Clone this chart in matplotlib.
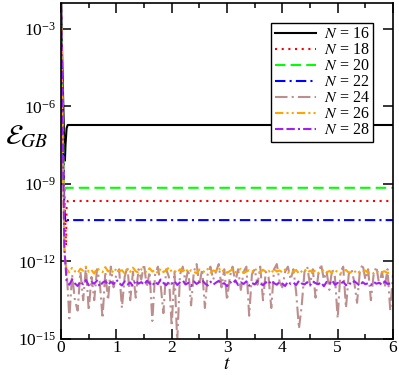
import numpy as np
import matplotlib
matplotlib.use('Agg')
import matplotlib.pyplot as plt
from matplotlib.ticker import FixedLocator, NullLocator, MultipleLocator

plt.rcParams['font.family'] = ['Liberation Serif', 'DejaVu Serif']
plt.rcParams['mathtext.fontset'] = 'stix'

# начальный участок (t, log10 E) для гладких кривых
t16 = [0.0, 0.03, 0.06, 0.07, 0.08, 0.10, 0.12, 6.0]
e16 = [-2.0, -5.0, -7.7, -8.1, -7.5, -6.85, -6.72, -6.72]
t18 = [0.0, 0.03, 0.06, 0.09, 0.10, 0.12, 6.0]
e18 = [-2.0, -6.0, -9.5, -11.4, -9.9, -9.66, -9.66]
t20 = [0.0, 0.03, 0.05, 0.07, 0.09, 6.0]
e20 = [-2.0, -6.0, -9.0, -9.25, -9.15, -9.15]
t22 = [0.0, 0.03, 0.06, 0.08, 0.10, 6.0]
e22 = [-2.0, -6.5, -10.0, -10.5, -10.4, -10.4]

# начало шумных кривых
t_head = [0.0, 0.03, 0.06, 0.08]
e_head = [-2.0, -7.0, -11.5, -12.1]

# шумные кривые, шаг 0.05 от t = 0.10 до 6.00
e24 = [-12.3, -14.2, -12.5, -13.5, -13.9, -12.4, -13.5, -12.2, -13.9, -12.6,
       -13.5, -12.3, -12.8, -14.2, -12.4, -13.5, -12.2, -13.0, -12.5, -12.3,
       -13.8, -12.6, -12.2, -13.5, -12.4, -13.4, -12.3, -12.7, -12.1, -13.0,
       -12.4, -14.3, -12.5, -12.2, -12.9, -14.0, -12.3, -12.6, -14.5, -12.4,
       -15.1, -12.5, -12.2, -12.8, -12.3, -13.7, -12.4, -12.1, -12.9, -12.3,
       -13.8, -12.5, -12.2, -12.7, -12.4, -12.1, -13.0, -12.3, -13.5, -12.6,
       -12.2, -12.8, -12.3, -13.1, -12.4, -12.2, -14.1, -12.5, -12.3, -12.9,
       -12.2, -13.5, -12.4, -12.6, -13.8, -12.3, -12.1, -12.8, -13.0, -12.4,
       -12.2, -12.7, -12.3, -13.2, -14.6, -13.7, -12.4, -12.2, -12.9, -12.3,
       -13.4, -12.5, -12.1, -12.7, -12.4, -13.1, -12.3, -12.6, -14.2, -12.4,
       -12.2, -13.8, -12.5, -12.3, -12.8, -13.6, -12.4, -12.1, -12.7, -12.3,
       -13.5, -12.5, -12.2, -12.9, -12.4, -13.0, -12.3, -13.9, -12.5]
e26 = [-12.30, -12.42, -12.25, -12.38, -12.45, -12.28, -12.36, -12.20, -12.40, -12.33,
       -12.47, -12.26, -12.35, -12.41, -12.22, -12.39, -12.31, -12.44, -12.27, -12.37,
       -12.34, -12.46, -12.29, -12.40, -12.24, -12.38, -12.43, -12.30, -12.36, -12.42,
       -12.26, -12.39, -12.33, -12.45, -12.28, -12.41, -12.35, -12.23, -12.40, -12.37,
       -12.44, -12.30, -12.38, -12.27, -12.42, -12.34, -12.39, -12.46, -12.31, -12.36,
       -12.41, -12.29, -12.43, -12.35, -12.38, -12.25, -12.40, -12.33, -12.44, -12.37,
       -12.30, -12.42, -12.36, -12.28, -12.45, -12.39, -12.34, -12.41, -12.27, -12.38,
       -12.43, -12.32, -12.40, -12.36, -12.46, -12.29, -12.39, -12.35, -12.42, -12.31,
       -12.44, -12.37, -12.40, -12.33, -12.47, -12.38, -12.30, -12.43, -12.36, -12.41,
       -12.34, -12.45, -12.39, -12.32, -12.42, -12.37, -12.44, -12.35, -12.40, -12.46,
       -12.38, -12.33, -12.43, -12.41, -12.36, -12.47, -12.39, -12.42, -12.35, -12.44,
       -12.40, -12.46, -12.37, -12.43, -12.41, -12.38, -12.45, -12.42, -12.40]
e28 = [-12.75, -12.90, -12.70, -12.85, -12.95, -12.78, -12.88, -12.72, -12.92, -12.80,
       -12.86, -12.74, -12.97, -12.82, -12.76, -12.91, -12.79, -12.87, -12.71, -12.84,
       -12.93, -12.77, -12.89, -12.81, -12.96, -12.73, -12.86, -12.80, -12.90, -12.75,
       -12.84, -12.94, -12.78, -12.88, -12.70, -12.83, -12.92, -12.79, -12.86, -12.76,
       -12.91, -12.81, -12.74, -12.89, -12.83, -12.95, -12.77, -12.87, -12.80, -12.72,
       -12.85, -12.93, -12.78, -12.90, -12.82, -12.75, -12.88, -12.84, -12.96, -12.79,
       -12.86, -12.73, -12.91, -12.81, -12.87, -12.77, -12.94, -12.83, -12.89, -12.76,
       -12.85, -12.92, -12.80, -12.88, -12.74, -12.84, -12.90, -12.79, -12.86, -12.95,
       -12.78, -12.87, -12.82, -12.91, -12.75, -12.85, -12.89, -12.80, -12.93, -12.77,
       -12.84, -12.88, -12.81, -12.96, -12.79, -12.86, -12.73, -12.90, -12.83, -12.87,
       -12.78, -12.92, -12.82, -12.89, -12.76, -12.85, -12.94, -12.80, -12.88, -12.84,
       -12.91, -12.79, -12.86, -12.83, -12.90, -12.77, -12.87, -12.85, -12.82]
t_noise = np.linspace(0.10, 6.0, len(e24))

fig = plt.figure(figsize=(3.99, 3.75), dpi=100)
ax = fig.add_axes([0.153, 0.096, 0.832, 0.896])

ax.plot(t16, 10.0**np.array(e16), color='black', lw=1.5, ls='-', label=r'$N$ = 16')
ax.plot(t18, 10.0**np.array(e18), color='red', lw=1.5, ls=(0, (1, 2.2)), label=r'$N$ = 18')
ax.plot(t20, 10.0**np.array(e20), color='#00ff00', lw=1.5, ls=(0, (5, 2.5)), label=r'$N$ = 20')
ax.plot(t22, 10.0**np.array(e22), color='blue', lw=1.5, ls=(0, (5, 2, 1, 2)), label=r'$N$ = 22')
ax.plot(t_head + list(t_noise), 10.0**np.array(e_head + e24), color='#bc8f8f', lw=1.5,
        ls=(0, (6, 2, 1, 2)), label=r'$N$ = 24')
ax.plot(t_head + list(t_noise), 10.0**np.array(e_head + e26), color='#ffa500', lw=1.5,
        ls=(0, (4, 1.5, 1, 1.5, 1, 1.5)), label=r'$N$ = 26')
ax.plot(t_head + list(t_noise), 10.0**np.array(e_head + e28), color='#a020f0', lw=1.5,
        ls=(0, (4, 1.5, 4, 1.5, 1, 1.5)), label=r'$N$ = 28')

ax.set_yscale('log')
ax.set_xlim(0, 6)
ax.set_ylim(1e-15, 1e-2)
ax.yaxis.set_major_locator(FixedLocator([1e-15, 1e-12, 1e-9, 1e-6, 1e-3]))
ax.yaxis.set_minor_locator(NullLocator())
ax.xaxis.set_major_locator(MultipleLocator(1))
ax.xaxis.set_minor_locator(MultipleLocator(0.5))
ax.tick_params(which='both', direction='in', top=True, right=True, labelsize=12.5)
ax.tick_params(which='major', length=7, width=1.1)
ax.tick_params(which='minor', length=3.5, width=1.1)
ax.tick_params(axis='x', pad=1)
for s in ax.spines.values():
    s.set_linewidth(1.2)

ax.set_xlabel(r'$t$', fontsize=14, labelpad=0)
ax.set_ylabel(r'$\mathcal{E}_{GB}$', fontsize=20, rotation=0)
ax.yaxis.set_label_coords(-0.105, 0.56)

leg = ax.legend(loc='upper right', bbox_to_anchor=(0.94, 0.94), fontsize=11.5,
                frameon=True, fancybox=False, edgecolor='black', framealpha=1,
                handlelength=2.6, labelspacing=0.0, borderpad=0.2,
                handletextpad=0.5, borderaxespad=0)
leg.get_frame().set_linewidth(1.0)

plt.savefig('out.png', dpi=100)
